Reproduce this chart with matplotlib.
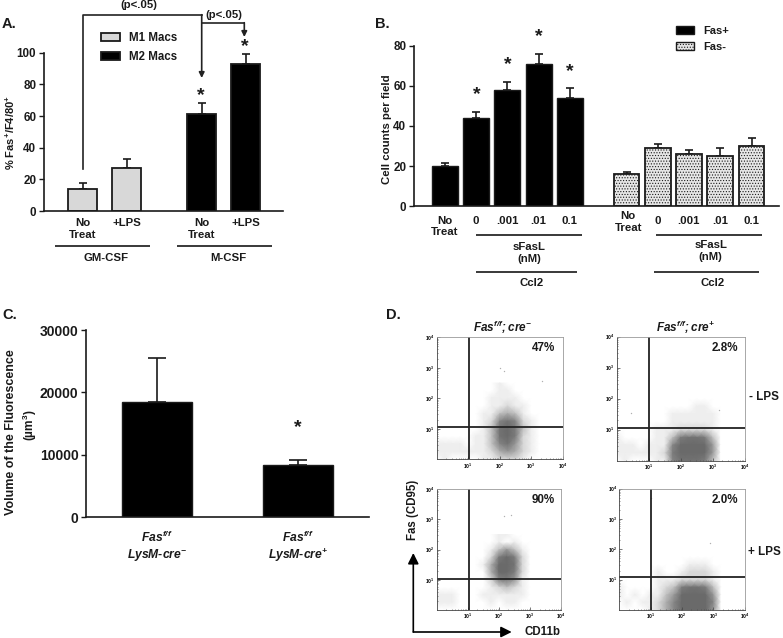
import matplotlib
matplotlib.use("Agg")
import matplotlib.pyplot as plt
import numpy as np
from matplotlib.colors import LinearSegmentedColormap
from matplotlib.patches import Patch

plt.rcParams['font.family'] = ['Liberation Sans', 'DejaVu Sans']
plt.rcParams['font.weight'] = 'bold'
plt.rcParams['axes.labelweight'] = 'bold'
plt.rcParams['mathtext.fontset'] = 'custom'
plt.rcParams['mathtext.rm'] = 'Liberation Sans:bold'
plt.rcParams['mathtext.bf'] = 'Liberation Sans:bold'
plt.rcParams['mathtext.it'] = 'Liberation Sans:italic:bold'
plt.rcParams['mathtext.bfit'] = 'Liberation Sans:italic:bold'
plt.rcParams['mathtext.default'] = 'bf'
plt.rcParams['hatch.linewidth'] = 0.5

INK = "#1a1a1a"
W, H = 783, 638

# panel A
a_labels = ["No\nTreat", "+LPS", "No\nTreat", "+LPS"]
a_values = [14, 27, 61, 93]
a_err = [4, 6, 7, 6]

# panel B
b_labels = ["No\nTreat", "0", ".001", ".01", "0.1"]
b_fas_pos = [20, 44, 58, 71, 54]
b_fas_pos_err = [1.5, 3, 4, 5, 5]
b_fas_neg = [16, 29, 26, 25, 30]
b_fas_neg_err = [1, 2, 2, 4, 4]

# panel C
c_labels = ["$\\mathbfit{Fas^{f/f}}$\n$\\mathbfit{LysM}$-$\\mathbfit{cre^{-}}$",
            "$\\mathbfit{Fas^{f/f}}$\n$\\mathbfit{LysM}$-$\\mathbfit{cre^{+}}$"]
c_values = [18500, 8300]
c_err = [7000, 900]

# panel D: dot density, log10 CD11b along, log10 Fas down
d_log_x = [0, .25, .5, .75, 1, 1.25, 1.5, 1.75, 2, 2.25, 2.5, 2.75, 3, 3.25, 3.5, 3.75, 4]
d_log_y = [2.5, 2.25, 2, 1.75, 1.5, 1.25, 1, .75, .5, .25, 0]
d_density_1 = [
    [0, 0, 0, 0, 0, 0, 0, 0, 1, 0, 0, 0, 0, 0, 0, 0, 0],
    [0, 0, 0, 0, 0, 0, 0, 0, 1, 1, 0, 0, 0, 0, 0, 0, 0],
    [0, 0, 0, 0, 0, 0, 0, 1, 1, 1, 1, 0, 0, 0, 0, 0, 0],
    [0, 0, 0, 0, 0, 0, 0, 1, 1, 2, 1, 1, 0, 0, 0, 0, 0],
    [0, 0, 0, 0, 0, 0, 1, 1, 3, 4, 3, 1, 0, 0, 0, 0, 0],
    [0, 0, 0, 0, 0, 0, 1, 2, 6, 8, 6, 2, 1, 0, 0, 0, 0],
    [0, 0, 0, 0, 0, 0, 1, 3, 8, 9, 7, 3, 1, 0, 0, 0, 0],
    [0, 0, 0, 0, 0, 1, 1, 3, 8, 9, 7, 2, 1, 0, 0, 0, 0],
    [1, 1, 1, 1, 0, 1, 1, 3, 6, 8, 5, 2, 1, 0, 0, 0, 0],
    [1, 1, 1, 1, 1, 1, 1, 2, 4, 5, 4, 2, 1, 0, 0, 0, 0],
    [0, 1, 0, 0, 0, 0, 1, 1, 2, 2, 2, 1, 0, 0, 0, 0, 0],
]
d_density_2 = [
    [0, 0, 0, 0, 0, 0, 0, 0, 0, 0, 0, 0, 0, 0, 0, 0, 0],
    [0, 0, 0, 0, 0, 0, 0, 0, 0, 0, 0, 0, 0, 0, 0, 0, 0],
    [0, 0, 0, 0, 0, 0, 0, 0, 0, 0, 0, 0, 0, 0, 0, 0, 0],
    [0, 0, 0, 0, 0, 0, 0, 0, 0, 0, 1, 1, 0, 0, 0, 0, 0],
    [0, 0, 0, 0, 0, 0, 0, 1, 1, 1, 1, 1, 1, 0, 0, 0, 0],
    [0, 0, 0, 0, 0, 0, 0, 1, 1, 1, 1, 1, 1, 0, 0, 0, 0],
    [0, 0, 0, 0, 0, 1, 1, 1, 2, 2, 2, 2, 1, 0, 0, 0, 0],
    [1, 0, 0, 0, 0, 1, 1, 3, 7, 8, 8, 7, 3, 0, 0, 0, 0],
    [1, 1, 1, 0, 1, 1, 1, 6, 9, 9, 9, 9, 5, 0, 0, 0, 0],
    [1, 1, 1, 1, 1, 1, 2, 7, 9, 9, 9, 9, 5, 0, 0, 0, 0],
    [0, 1, 0, 0, 0, 1, 1, 6, 8, 8, 8, 7, 3, 0, 0, 0, 0],
]
d_density_3 = [
    [0, 0, 0, 0, 0, 0, 0, 0, 1, 1, 0, 0, 0, 0, 0, 0, 0],
    [0, 0, 0, 0, 0, 0, 0, 0, 1, 0, 1, 0, 0, 0, 0, 0, 0],
    [0, 0, 0, 0, 0, 0, 0, 1, 3, 5, 3, 1, 0, 0, 0, 0, 0],
    [0, 0, 0, 0, 0, 0, 0, 2, 7, 9, 7, 2, 0, 0, 0, 0, 0],
    [0, 0, 0, 0, 0, 0, 1, 4, 9, 9, 8, 2, 0, 0, 0, 0, 0],
    [0, 0, 0, 0, 0, 0, 0, 4, 9, 9, 7, 2, 0, 0, 0, 0, 0],
    [0, 0, 0, 0, 0, 0, 0, 2, 6, 7, 5, 1, 0, 0, 0, 0, 0],
    [0, 0, 0, 0, 0, 0, 0, 1, 2, 3, 2, 1, 0, 0, 0, 0, 0],
    [1, 1, 1, 0, 0, 0, 1, 1, 1, 1, 1, 1, 0, 0, 0, 0, 0],
    [1, 1, 1, 0, 0, 0, 0, 1, 0, 1, 1, 0, 0, 0, 0, 0, 0],
    [0, 0, 0, 0, 0, 0, 0, 0, 0, 0, 0, 0, 0, 0, 0, 0, 0],
]
d_density_4 = [
    [0, 0, 0, 0, 0, 0, 0, 0, 0, 0, 0, 0, 0, 0, 0, 0, 0],
    [0, 0, 0, 0, 0, 0, 0, 0, 0, 0, 0, 0, 0, 0, 0, 0, 0],
    [0, 0, 0, 0, 0, 0, 0, 0, 0, 0, 0, 0, 0, 0, 0, 0, 0],
    [0, 0, 0, 0, 0, 0, 0, 0, 0, 0, 0, 0, 0, 0, 0, 0, 0],
    [0, 0, 0, 0, 0, 0, 0, 0, 0, 1, 1, 1, 0, 0, 0, 0, 0],
    [0, 0, 0, 0, 0, 1, 0, 0, 1, 2, 2, 2, 1, 0, 0, 0, 0],
    [0, 0, 0, 0, 0, 1, 1, 1, 2, 2, 2, 2, 1, 0, 0, 0, 0],
    [1, 0, 0, 0, 0, 1, 2, 3, 7, 8, 8, 7, 3, 0, 0, 0, 0],
    [1, 0, 1, 0, 1, 1, 3, 5, 9, 9, 9, 9, 5, 0, 0, 0, 0],
    [0, 1, 0, 1, 1, 2, 4, 6, 9, 9, 9, 9, 6, 0, 0, 0, 0],
    [0, 0, 0, 0, 1, 2, 4, 6, 9, 9, 9, 9, 5, 0, 0, 0, 0],
]
d_percent = ["47%", "2.8%", "90%", "2.0%"]
d_gate_x = [1.03, 1.02, 1.03, 1.02]
d_gate_y = [1.07, 1.07, 1.03, 1.08]
d_stray_x = [[3.33, 2.0, 2.15], [0.45, 3.2], [2.15, 2.4], [1.0, 2.9]]
d_stray_y = [[2.58, 3.0, 2.9], [1.53, 1.65], [3.1, 3.15], [3.7, 2.2]]


def px_axes(left, top, right, bottom):
    return fig.add_axes([left/W, 1 - bottom/H, (right - left)/W, (bottom - top)/H])


def style(ax, size, tick_w=1.0):
    for s in ["top", "right"]:
        ax.spines[s].set_visible(False)
    for s in ["left", "bottom"]:
        ax.spines[s].set_linewidth(1.2)
        ax.spines[s].set_color(INK)
    ax.tick_params(axis="y", length=3.6, width=tick_w, labelsize=size, color=INK, labelcolor=INK, pad=2)
    ax.tick_params(axis="x", length=0, labelsize=size, labelcolor=INK)


def upper_err(ax, x, y, e, cap):
    ax.errorbar(x, y, yerr=[np.zeros(len(e)), e], fmt="none", ecolor=INK, elinewidth=1.2,
                capsize=cap, capthick=1.2, zorder=1)


def place_ylabel(ax, x_px, y_px):
    # y label centre given in page pixels
    box = ax.get_position()
    ax.yaxis.set_label_coords((x_px/W - box.x0)/box.width, (1 - y_px/H - box.y0)/box.height)
    ax.yaxis.label.set_va("center")


fig = plt.figure(figsize=(W/100, H/100), dpi=100)

# A
ax_a = px_axes(44, 52.7, 283, 211)
a_x = np.array([0, 1, 2.7, 3.7])
a_colors = ["#d8d8d8", "#d8d8d8", "black", "black"]
ax_a.bar(a_x, a_values, width=0.66, color=a_colors, edgecolor=INK, linewidth=1.3, zorder=2)
upper_err(ax_a, a_x, a_values, a_err, 3.2)
ax_a.set_xlim(-0.88, 4.55)
ax_a.set_ylim(0, 100)
ax_a.set_yticks(range(0, 101, 20))
ax_a.set_xticks(a_x)
ax_a.set_xticklabels(a_labels, linespacing=1.2)
style(ax_a, 8.4)
ax_a.tick_params(axis="x", labelsize=8.2, pad=5)
ax_a.set_ylabel("% Fas$^{+}$/F4/80$^{+}$", fontsize=8, color=INK)
place_ylabel(ax_a, 10, 132.5)
ax_a.legend(handles=[Patch(facecolor="#d8d8d8", edgecolor=INK, linewidth=1.3, label="M1 Macs"),
                     Patch(facecolor="black", edgecolor=INK, linewidth=1.3, label="M2 Macs")],
            frameon=False, loc="upper left", bbox_to_anchor=(101/W, 1 - 32/H), bbox_transform=fig.transFigure,
            fontsize=8.3, handlelength=1.65, handleheight=0.65, handletextpad=0.8,
            labelspacing=0.6, borderpad=0, borderaxespad=0, labelcolor=INK)

# B
ax_b = px_axes(414, 45.7, 779, 206.3)
b_x_pos = np.arange(5)
b_x_neg = np.arange(5) + 5.81
ax_b.bar(b_x_pos, b_fas_pos, width=0.83, color="black", edgecolor=INK, linewidth=1.0, zorder=2)
ax_b.bar(b_x_neg, b_fas_neg, width=0.83, color="#e6e6e6", edgecolor=INK, linewidth=1.3,
         hatch="......", zorder=2)
upper_err(ax_b, b_x_pos, b_fas_pos, b_fas_pos_err, 2.6)
upper_err(ax_b, b_x_neg, b_fas_neg, b_fas_neg_err, 2.6)
ax_b.set_xlim(-0.99, 10.69)
ax_b.set_ylim(0, 80)
ax_b.set_yticks(range(0, 81, 20))
ax_b.set_xticks(np.concatenate([b_x_pos, b_x_neg]))
ax_b.set_xticklabels(b_labels + [""] + b_labels[1:], linespacing=1.15)
style(ax_b, 8.4)
ax_b.tick_params(axis="x", labelsize=8.2, pad=7)
ax_b.set_ylabel("Cell counts per field", fontsize=8.2, color=INK)
place_ylabel(ax_b, 387, 129)
ax_b.legend(handles=[Patch(facecolor="black", edgecolor=INK, label="Fas+"),
                     Patch(facecolor="#e6e6e6", edgecolor=INK, hatch="......", label="Fas-")],
            frameon=False, loc="upper left", bbox_to_anchor=(676/W, 1 - 26/H), bbox_transform=fig.transFigure,
            fontsize=8, handlelength=1.6, handleheight=0.65, handletextpad=0.85,
            labelspacing=0.55, borderpad=0, borderaxespad=0, labelcolor=INK)

# C
ax_c = px_axes(86.3, 330, 369, 517.3)
c_x = np.array([0, 1])
ax_c.bar(c_x, c_values, width=0.5, color="black", edgecolor=INK, linewidth=1.0, zorder=2)
upper_err(ax_c, c_x, c_values, c_err, 6.5)
ax_c.set_xlim(-0.5, 1.505)
ax_c.set_ylim(0, 30000)
ax_c.set_yticks(range(0, 30001, 10000))
ax_c.set_xticks(c_x)
ax_c.set_xticklabels(c_labels, linespacing=1.15)
style(ax_c, 10)
ax_c.tick_params(axis="x", labelsize=8.7, pad=9)
ax_c.set_ylabel("Volume of the Fluorescence", fontsize=9, color=INK)
place_ylabel(ax_c, 10.7, 431.7)

# D
d_cmap = LinearSegmentedColormap.from_list(
    "dots", [(0, "white"), (1/9, "#eeeeee"), (3/9, "#c0c0c0"), (6/9, "#858585"), (1, "#6a6a6a")])
d_rects = [(436.7, 337.3, 562.7, 459.3), (616.7, 336.7, 744.7, 460.7),
           (436.7, 489.3, 561.3, 610), (619.3, 488.7, 744.7, 610)]
d_grids = [d_density_1, d_density_2, d_density_3, d_density_4]
for i in range(4):
    ax = px_axes(*d_rects[i])
    ax.pcolormesh(10.0**np.array(d_log_x), 10.0**np.array(d_log_y), np.array(d_grids[i]),
                  cmap=d_cmap, vmin=0, vmax=9, shading="gouraud", rasterized=True)
    ax.scatter(10.0**np.array(d_stray_x[i]), 10.0**np.array(d_stray_y[i]), s=1, color="#b0b0b0", linewidths=0)
    ax.set_xscale("log")
    ax.set_yscale("log")
    ax.set_xlim(1, 1e4)
    ax.set_ylim(1, 1e4)
    ax.axvline(10**d_gate_x[i], color="#222222", lw=1.3)
    ax.axhline(10**d_gate_y[i], color="#222222", lw=1.3)
    for s in ax.spines.values():
        s.set_linewidth(0.6)
        s.set_color("#9a9a9a")
    ax.spines["left"].set_color("#444444")
    ax.spines["bottom"].set_color("#444444")
    ax.set_xticks([10, 100, 1000, 10000])
    ax.set_xticklabels(["$10^{1}$", "$10^{2}$", "$10^{3}$", "$10^{4}$"])
    ax.set_yticks([10, 100, 1000, 10000])
    ax.set_yticklabels(["$10^{1}$", "$10^{2}$", "$10^{3}$", "$10^{4}$"])
    ax.tick_params(which="major", direction="in", length=2, width=0.5, labelsize=3.6, pad=1.5, color="#444444")
    ax.tick_params(which="minor", direction="in", length=1, width=0.4, color="#444444")

# everything placed by hand on the page goes on an overlay in pixels
ov = fig.add_axes([0, 0, 1, 1], zorder=10)
ov.set_xlim(0, W)
ov.set_ylim(H, 0)
ov.axis("off")


def put(x, y, s, size=8, **kw):
    ov.text(x, y, s, fontsize=size, ha=kw.pop("ha", "center"), va=kw.pop("va", "center"), color=INK, **kw)


def star(x, y):
    put(x, y + 2.5, "*", size=14)


def rule(x0, x1, y):
    ov.plot([x0, x1], [y, y], color="#2a2a2a", lw=1.3, solid_capstyle="butt")


def down_arrow(x, y0, y1, scale=8):
    ov.annotate("", xy=(x, y1), xytext=(x, y0), arrowprops=dict(arrowstyle="-|>", color="#222222", lw=1.2,
                mutation_scale=scale, shrinkA=0, shrinkB=0))


for letter, lx, ly in [("A.", 2, 24), ("B.", 375, 24), ("C.", 2, 315), ("D.", 386, 315)]:
    put(lx, ly, letter, size=10.5, ha="left")

# A annotations
ov.plot([83.3, 83.3, 201.7], [169, 14.7, 14.7], color="#222222", lw=1.2)
down_arrow(201.7, 14.7, 78)
ov.plot([201.7, 244.3], [22.7, 22.7], color="#222222", lw=1.2)
down_arrow(244.3, 22.7, 37)
put(139, 5.5, "(p<.05)", size=8.2)
put(224, 14.7, "(p<.05)", size=8.2)
star(201, 93)
star(245, 44)
rule(55, 150, 246)
rule(176.7, 272.3, 246)
put(106, 258, "GM-CSF", size=8.2)
put(228.3, 258, "M-CSF", size=8.2)

# B annotations
for sx, sy in [(476.3, 91.7), (508, 62.3), (538.7, 34), (570, 69.3)]:
    star(sx, sy)
put(628.3, 222, "No\nTreat", size=8.2, linespacing=1.15)
rule(476, 582, 235)
rule(656, 762, 235)
rule(476, 576.7, 272.3)
rule(654, 759.3, 272.3)
put(529.3, 253, "sFasL\n(nM)", size=8.2, linespacing=1.25)
put(710.7, 251, "sFasL\n(nM)", size=8.2, linespacing=1.25)
put(531.3, 283.3, "Ccl2", size=8.2)
put(712.7, 283.3, "Ccl2", size=8.2)

# C annotations
put(30, 425, "(\u00b5m$^{3}$)", size=8.6, rotation=90)
star(298, 425)

# D annotations
put(502.3, 327.3, "$\\mathbfit{Fas^{f/f};cre^{-}}$", size=8.5)
put(685.7, 327.3, "$\\mathbfit{Fas^{f/f};cre^{+}}$", size=8.5)
for (px, py), txt in zip([(543.3, 347.7), (725, 347.7), (542.7, 500), (725.3, 500)], d_percent):
    put(px, py, txt, size=8.4)
put(764, 397.3, "- LPS", size=8.4)
put(764.3, 552.3, "+ LPS", size=8.4)
put(413.3, 510, "Fas (CD95)", size=8.3, rotation=90)
put(542.7, 632, "CD11b", size=8.3)
ov.annotate("", xy=(413.3, 553), xytext=(413.3, 632), arrowprops=dict(arrowstyle="-|>", color="black", lw=1.2,
            mutation_scale=16, shrinkA=0, shrinkB=0))
ov.annotate("", xy=(511.7, 632), xytext=(413.3, 632), arrowprops=dict(arrowstyle="-|>", color="black", lw=1.2,
            mutation_scale=16, shrinkA=0, shrinkB=0))

fig.savefig("out.png", dpi=100)
